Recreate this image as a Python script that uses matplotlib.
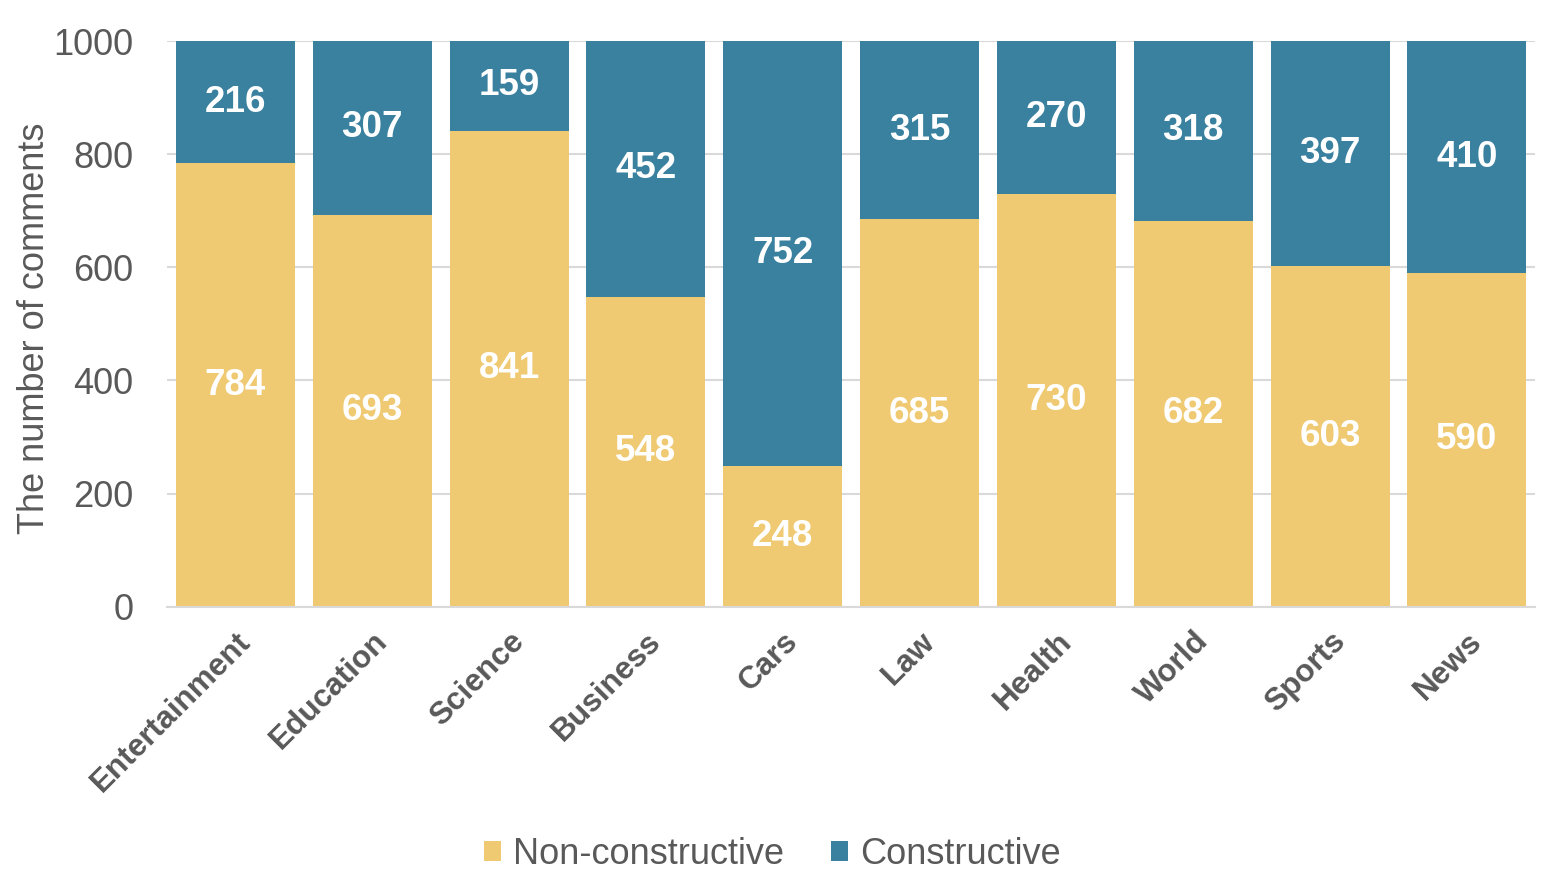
import matplotlib.pyplot as plt
import numpy as np

plt.rcParams['font.family'] = ['Liberation Sans', 'DejaVu Sans']

categories = ['Entertainment', 'Education', 'Science', 'Business', 'Cars',
              'Law', 'Health', 'World', 'Sports', 'News']
non_constructive = [784, 693, 841, 548, 248, 685, 730, 682, 603, 590]
constructive = [216, 307, 159, 452, 752, 315, 270, 318, 397, 410]

yellow = '#EFCA73'
blue = '#3A81A0'
gray = '#595959'

fig = plt.figure(figsize=(15.54, 8.82), dpi=100)
ax = fig.add_axes([0.1075, 0.312, 0.8805, 0.6415])

x = np.arange(len(categories))
b1 = ax.bar(x, non_constructive, width=0.87, color=yellow, label='Non-constructive', zorder=2)
b2 = ax.bar(x, constructive, width=0.87, bottom=non_constructive, color=blue,
            label='Constructive', zorder=2)

for i in range(len(categories)):
    ax.text(x[i], non_constructive[i] / 2, str(non_constructive[i]), ha='center', va='center',
            color='white', fontsize=26.5, fontweight='bold')
    ax.text(x[i], non_constructive[i] + constructive[i] / 2, str(constructive[i]),
            ha='center', va='center', color='white', fontsize=26.5, fontweight='bold')

ax.set_xlim(-0.5, 9.5)
ax.set_ylim(0, 1000)
ax.set_yticks(range(0, 1001, 200))
ax.yaxis.grid(True, color='#D9D9D9', linewidth=1.5, zorder=0)
ax.set_axisbelow(True)
for s in ['top', 'right', 'left']:
    ax.spines[s].set_visible(False)
ax.spines['bottom'].set_color('#D9D9D9')
ax.spines['bottom'].set_linewidth(1.5)
ax.tick_params(axis='both', length=0, colors=gray)
ax.tick_params(axis='y', labelsize=26, pad=24)
ax.set_xticks(x)
ax.set_xticklabels(categories, rotation=45, ha='right', rotation_mode='anchor',
                   fontsize=22.7, fontweight='bold', color=gray)
ax.tick_params(axis='x', pad=14)
ax.set_ylabel('The number of comments', fontsize=26, color=gray, va='center')
ax.yaxis.set_label_coords(-0.097, 0.492)

fig.legend(handles=[b1, b2], loc='lower center', bbox_to_anchor=(0.497, -0.025), ncol=2,
           frameon=False, fontsize=26, labelcolor=gray, handlelength=0.48,
           handleheight=0.48, handletextpad=0.33, columnspacing=1.3)

fig.savefig('out.png', dpi=100)
